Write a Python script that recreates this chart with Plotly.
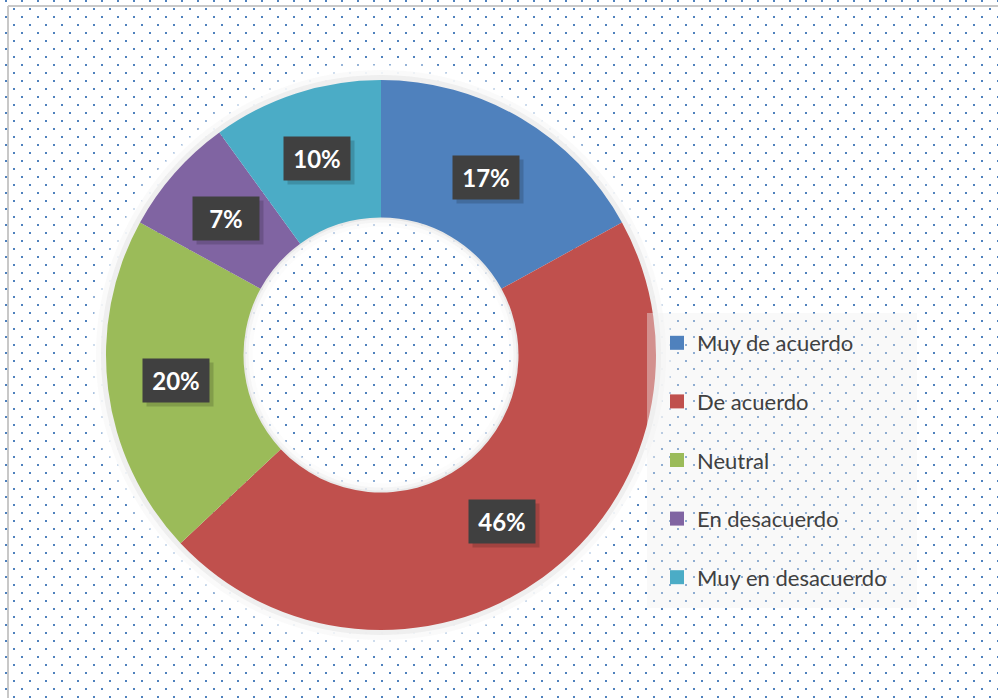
import base64, math
import numpy as np
import plotly.graph_objects as go

categories = ["Muy de acuerdo", "De acuerdo", "Neutral", "En desacuerdo", "Muy en desacuerdo"]
values = [17, 46, 20, 7, 10]
colors = ["#4F81BD", "#C0504D", "#9BBB59", "#8064A2", "#4BACC6"]

W, H = 998, 698
CX, CY, R = 381, 355, 275  # pixel centre / outer radius of donut
HOLE = 0.5

fig = go.Figure()

dom_x = [(CX - R) / W, (CX + R) / W]
dom_y = [(H - CY - R) / H, (H - CY + R) / H]

fig.add_trace(go.Pie(
    labels=categories, values=values, hole=HOLE, sort=False, direction="clockwise",
    rotation=0, marker=dict(colors=colors, line=dict(width=0)),
    textinfo="none", hoverinfo="label+percent", showlegend=False,
    domain=dict(x=dom_x, y=dom_y),
))

# legend entries
for i, (c, col) in enumerate(zip(categories, colors)):
    fig.add_trace(go.Scatter(
        x=[None], y=[None], mode="markers", name=c, legendgroup=f"g{i}",
        marker=dict(symbol="square", size=14, color=col), showlegend=True,
    ))

# percentage labels as boxed annotations at the ring's mid radius
total = sum(values)
rmid = R * (1 + HOLE) / 2
ann = []
cum = 0
for v in values:
    mid = (cum + v / 2) / total * 2 * math.pi
    cum += v
    px = CX + rmid * math.sin(mid)
    py = CY - rmid * math.cos(mid)
    txt = f"{round(v / total * 100)}%"
    common = dict(x=px / W, y=(H - py) / H, xref="paper", yref="paper", showarrow=False,
                  xanchor="center", yanchor="middle", width=64, height=41)
    # drop shadow box (no text)
    ann.append(dict(**common, text=" ", bgcolor="rgba(0,0,0,0.16)", xshift=4, yshift=-4,
                    font=dict(family="Lato", size=24)))
    ann.append(dict(**common, text=txt, bgcolor="#404040",
                    font=dict(family="Lato", size=24, weight="bold", color="white")))

# dotted background
svg = (f'<svg xmlns="http://www.w3.org/2000/svg" width="{W}" height="{H}">'
       '<defs><pattern id="p" width="16" height="16" patternUnits="userSpaceOnUse" x="13" y="8">'
       '<rect x="0" y="0" width="2" height="2" fill="#4F81BD"/>'
       '<rect x="8" y="8" width="2" height="2" fill="#4F81BD"/></pattern></defs>'
       f'<rect width="{W}" height="{H}" fill="url(#p)"/></svg>')
src = "data:image/svg+xml;base64," + base64.b64encode(svg.encode()).decode()


def ring_path(r_out, r_in, n=180):
    t = np.linspace(0, 2 * np.pi, n, endpoint=False)
    def pts(r, rev):
        tt = t[::-1] if rev else t
        xs = (CX + r * np.cos(tt)) / W
        ys = (H - CY + r * np.sin(tt)) / H
        return "M" + "L".join(f"{x:.5f},{y:.5f}" for x, y in zip(xs, ys)) + "Z"
    return pts(r_out, False) + pts(r_in, True)


shapes = []
RIN = R * HOLE
# soft glow around donut (outside) and soft shade inside hole edge
for dr, fc in [(20, "rgba(255,255,255,0.4)"), (15, "rgba(255,255,255,0.55)"),
               (10, "rgba(248,248,248,0.75)"), (5, "rgba(236,236,236,0.85)")]:
    shapes.append(dict(type="path", xref="paper", yref="paper", path=ring_path(R + dr, R - 2),
                       fillcolor=fc, line=dict(width=0), layer="below"))
for dr, fc in [(14, "rgba(255,255,255,0.35)"), (9, "rgba(250,250,250,0.5)"),
               (5, "rgba(240,240,240,0.6)"), (2, "rgba(228,228,228,0.7)")]:
    shapes.append(dict(type="path", xref="paper", yref="paper", path=ring_path(RIN + 2, RIN - dr),
                       fillcolor=fc, line=dict(width=0), layer="below"))
# chart frame
shapes.append(dict(type="line", xref="paper", yref="paper", x0=8 / W, x1=8 / W, y0=0, y1=(H - 6) / H,
                   line=dict(color="#C8C8C8", width=2)))
shapes.append(dict(type="line", xref="paper", yref="paper", x0=8 / W, x1=1, y0=(H - 6) / H, y1=(H - 6) / H,
                   line=dict(color="#C8C8C8", width=2)))
# legend background
shapes.append(dict(type="rect", xref="paper", yref="paper", x0=647 / W, x1=917 / W,
                   y0=(H - 608) / H, y1=(H - 313) / H, fillcolor="rgba(240,240,240,0.4)",
                   line=dict(width=0), layer="above"))

fig.update_layout(
    width=W, height=H, autosize=False,
    margin=dict(l=0, r=0, t=0, b=0),
    paper_bgcolor="white", plot_bgcolor="rgba(0,0,0,0)",
    xaxis=dict(visible=False), yaxis=dict(visible=False),
    images=[dict(source=src, xref="paper", yref="paper", x=0, y=1, sizex=1, sizey=1,
                 xanchor="left", yanchor="top", sizing="stretch", layer="below")],
    shapes=shapes, annotations=ann,
    legend=dict(x=657 / W, y=(H - 322) / H, xanchor="left", yanchor="top",
                bgcolor="rgba(0,0,0,0)", font=dict(family="Lato", size=22, color="#404040"),
                tracegroupgap=27, itemclick=False),
    showlegend=True,
)

fig.write_html("out.html", config={"displayModeBar": False},
               post_script="document.body.style.margin='0';")
